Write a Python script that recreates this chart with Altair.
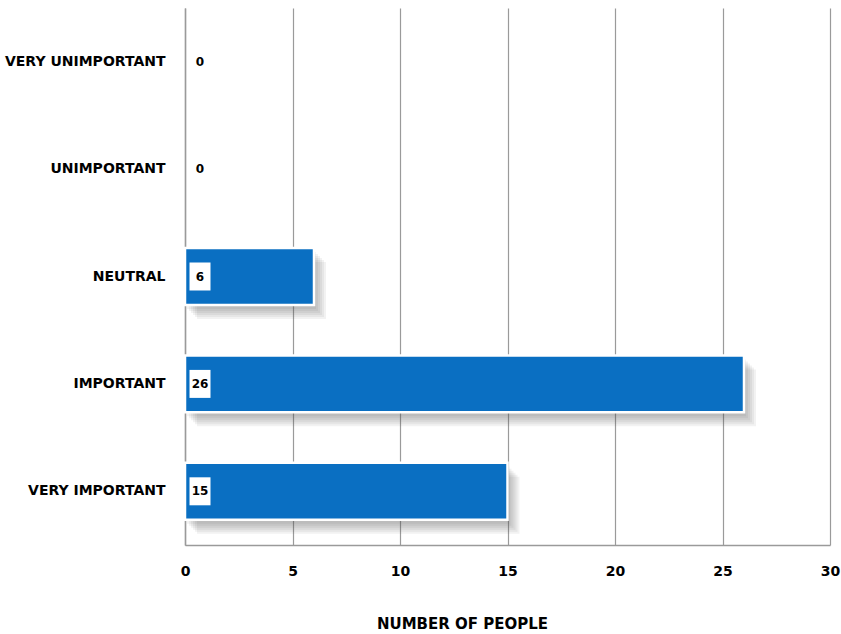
import altair as alt
import pandas as pd

# Survey responses: importance rating vs number of people
categories = ["VERY UNIMPORTANT", "UNIMPORTANT", "NEUTRAL", "IMPORTANT", "VERY IMPORTANT"]
counts = [0, 0, 6, 26, 15]
x_ticks = [0, 5, 10, 15, 20, 25, 30]

df = pd.DataFrame({"rating": categories, "people": counts})

FONT = "DejaVu Sans"
BLUE = "#0a6fc2"
GRID = "#9a9a9a"

y_enc = alt.Y(
    "rating:N",
    sort=categories,
    title=None,
    scale=alt.Scale(paddingInner=0.47, paddingOuter=0.235),
    axis=alt.Axis(
        ticks=False,
        grid=False,
        domain=True,
        domainColor=GRID,
        domainWidth=1.5,
        labelFont=FONT,
        labelFontWeight="bold",
        labelFontSize=14,
        labelColor="#000000",
        labelPadding=20,
    ),
)

x_enc = alt.X(
    "people:Q",
    scale=alt.Scale(domain=[0, 30], nice=False),
    title="NUMBER OF PEOPLE",
    axis=alt.Axis(
        values=x_ticks,
        ticks=False,
        grid=True,
        gridColor=GRID,
        gridWidth=1.2,
        domain=True,
        domainColor=GRID,
        domainWidth=1.5,
        labelFlush=False,
        labelFont=FONT,
        labelFontWeight="bold",
        labelFontSize=14,
        labelColor="#000000",
        labelPadding=19,
        titleFont=FONT,
        titleFontWeight="bold",
        titleFontSize=15,
        titleColor="#000000",
        titleX=277,
        titleY=78,
        titleBaseline="middle",
    ),
)

base = alt.Chart(df)
nonzero = base.transform_filter(alt.datum.people > 0)

# soft drop shadow built from stacked, offset translucent bars
shadows = [
    nonzero.mark_bar(color="#4a4a4a", opacity=0.075, xOffset=d, yOffset=d + 2)
    .encode(x=x_enc, y=y_enc)
    for d in (2, 4, 6, 8, 10, 12)
]

bars = nonzero.mark_bar(color=BLUE, stroke="white", strokeWidth=2.5).encode(x=x_enc, y=y_enc)

# white label box at the start of each bar (vertical tick: thickness = width, size = height)
label_box = base.mark_tick(
    color="white", opacity=1, thickness=21, size=28, xOffset=15
).encode(x=alt.datum(0), y=y_enc)

labels = base.mark_text(
    font=FONT, fontWeight="bold", fontSize=12, color="black", xOffset=15, align="center", baseline="middle"
).encode(x=alt.datum(0), y=y_enc, text="people:Q")

chart = (
    alt.layer(*shadows, bars, label_box, labels)
    .properties(
        width=645,
        height=537,
        padding={"left": 185, "top": 8, "right": 11, "bottom": 89},
        autosize=alt.AutoSizeParams(type="none"),
        background="white",
    )
    .configure_view(stroke=None)
)

chart.save("out.html", embed_options={"renderer": "svg", "actions": False})
